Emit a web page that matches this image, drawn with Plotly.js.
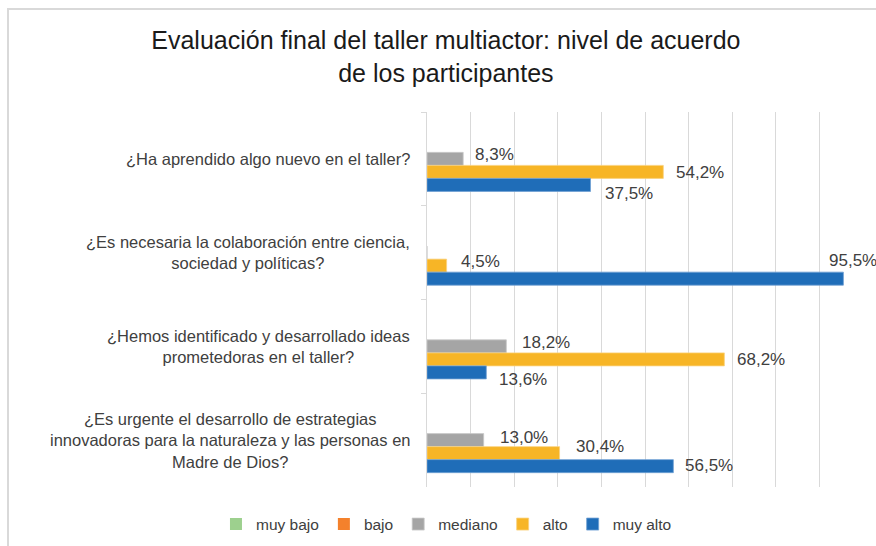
<!DOCTYPE html>
<html>
<head>
<meta charset="utf-8">
<script src="https://cdn.plot.ly/plotly-3.0.1.min.js"></script>
<style>
  html, body { margin: 0; padding: 0; background: #fff; }
  #wrap { position: relative; width: 876px; height: 546px; }
  #chart { position: absolute; left: 0; top: 0; width: 876px; height: 546px; }
  #frame { position: absolute; left: 7px; top: 8px; width: 880px; height: 560px;
           border: 2px solid #D9D9D9; box-sizing: border-box; pointer-events: none; }
</style>
</head>
<body>
<div id="wrap">
  <div id="chart"></div>
  <div id="frame"></div>
</div>
<script>
// ---- data ----
var categories = [
  "¿Ha aprendido algo nuevo en el taller?",
  "¿Es necesaria la colaboración entre ciencia,<br>sociedad y políticas?",
  "¿Hemos identificado y desarrollado ideas<br>prometedoras en el taller?",
  "¿Es urgente el desarrollo de estrategias<br>innovadoras para la naturaleza y las personas en<br>Madre de Dios?"
];
var seriesNames = ["muy bajo", "bajo", "mediano", "alto", "muy alto"];
var muyBajo = [0, 0, 0, 0];
var bajo    = [0, 0, 0, 0];
var mediano = [8.3, 0, 18.2, 13.0];
var alto    = [54.2, 4.5, 68.2, 30.4];
var muyAlto = [37.5, 95.5, 13.6, 56.5];
var seriesValues = [muyBajo, bajo, mediano, alto, muyAlto];

// ---- style ----
var colors = ["#9DD08E", "#F4812C", "#A5A5A5", "#F7B526", "#1F6DB8"];
var lineColors = ["#C4E3B9", "#F8B07E", "#C9C9C9", "#FAD27E", "#6FA0D3"];
var FONT = "Liberation Sans, Arial, sans-serif";
var BARGAP = 0.306;
// per-label pixel nudges [category][series] : [dx, dy] (dy positive = down)
var nudges = [
  [null, null, [10, -4], [11, 1], [12, 9]],
  [null, null, null, [12, -4], [-16, -18]],
  [null, null, [14, -4], [11, 0], [11, 7]],
  [null, null, [14, -3], [14, -7], [10, -1]]
];

var traces = seriesNames.map(function (name, i) {
  return {
    type: "bar",
    orientation: "h",
    name: name,
    y: categories,
    x: seriesValues[i],
    marker: { color: colors[i], line: { color: lineColors[i], width: seriesValues[i].some(function(v){return v>0;}) ? 0.8 : 0 } },
    hoverinfo: "x+name"
  };
});

var slot = (1 - BARGAP) / seriesNames.length;
var annotations = [];
// data labels
seriesValues.forEach(function (vals, si) {
  vals.forEach(function (v, ci) {
    if (!(v > 0)) return;
    var n = nudges[ci][si] || [11, 0];
    annotations.push({
      xref: "x", yref: "y",
      x: v,
      y: ci + (si - (seriesNames.length - 1) / 2) * slot,
      text: v.toFixed(1).replace(".", ",") + "%",
      showarrow: false,
      xanchor: "left", yanchor: "middle",
      xshift: n[0], yshift: -n[1],
      font: { family: FONT, size: 17, color: "#404040" }
    });
  });
});
// category labels (centered lines, right-anchored block)
categories.forEach(function (c, ci) {
  annotations.push({
    xref: "paper", yref: "y",
    x: 0, y: ci,
    text: c,
    showarrow: false,
    xanchor: "right", yanchor: "middle",
    align: "center",
    xshift: -15,
    font: { family: FONT, size: 16.5, color: "#404040" }
  });
});

var layout = {
  width: 876, height: 546,
  paper_bgcolor: "#fff", plot_bgcolor: "#fff",
  margin: { l: 427, r: 13, t: 112, b: 59, pad: 0, autoexpand: false },
  font: { family: FONT, color: "#404040" },
  title: {
    text: "Evaluación final del taller multiactor: nivel de acuerdo<br>de los participantes",
    font: { family: FONT, size: 25, color: "#1a1a1a" },
    x: 0.509, xanchor: "center", xref: "container",
    y: 0.91, yanchor: "top", yref: "container"
  },
  barmode: "group",
  bargap: BARGAP,
  bargroupgap: 0,
  xaxis: {
    range: [0, 100], dtick: 10, tick0: 0,
    showticklabels: false, ticks: "",
    showgrid: true, gridcolor: "#D9D9D9", gridwidth: 1,
    zeroline: false, showline: false, fixedrange: true
  },
  yaxis: {
    type: "category",
    autorange: "reversed",
    showticklabels: false,
    ticks: "outside", ticklen: 5, tickcolor: "#D9D9D9", tickwidth: 1,
    tickson: "boundaries",
    showline: true, linecolor: "#D9D9D9", linewidth: 1,
    showgrid: false, zeroline: false, fixedrange: true
  },
  legend: {
    orientation: "h",
    xref: "paper", yref: "paper",
    x: -0.484, xanchor: "left",
    y: -0.1, yanchor: "middle",
    font: { family: FONT, size: 15.5, color: "#404040" },
    traceorder: "normal",
    itemwidth: 30
  },
  annotations: annotations,
  showlegend: true
};

Plotly.newPlot("chart", traces, layout, { displayModeBar: false, staticPlot: true });
</script>
</body>
</html>
